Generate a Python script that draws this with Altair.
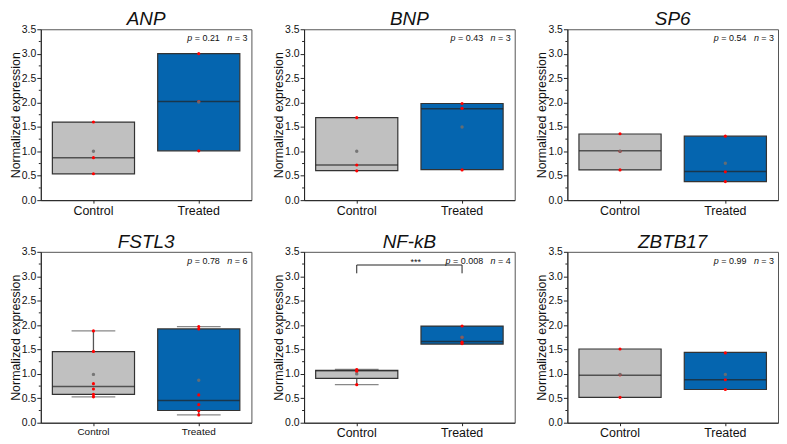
import altair as alt
import pandas as pd

FONT = "Liberation Sans, Arial, sans-serif"

GENES = ["ANP", "BNP", "SP6", "FSTL3", "NF-kB", "ZBTB17"]
GROUPS = ["Control", "Treated"]
COLORS = ["#C0C0C0", "#0565AF"]
P_VALUES = ["0.21", "0.43", "0.54", "0.78", "0.008", "0.99"]
N_VALUES = [3, 3, 3, 6, 4, 3]
XLABEL_SIZE = [12.5, 12.5, 12.5, 10, 12.5, 12.5]

# per gene: [Control, Treated]
LOWER = [[0.54, 1.01], [0.605, 0.625], [0.62, 0.38], [0.53, 0.16], [0.78, 1.61], [0.52, 0.68]]
Q1 = [[0.54, 1.01], [0.605, 0.625], [0.62, 0.38], [0.58, 0.25], [0.91, 1.61], [0.52, 0.68]]
MEDIAN = [[0.87, 2.02], [0.72, 1.87], [1.01, 0.585], [0.74, 0.456], [1.065, 1.665], [0.97, 0.88]]
Q3 = [[1.60, 3.00], [1.69, 1.98], [1.355, 1.31], [1.457, 1.92], [1.074, 1.98], [1.51, 1.44]]
UPPER = [[1.60, 3.00], [1.69, 1.98], [1.355, 1.31], [1.88, 1.97], [1.09, 1.98], [1.51, 1.44]]
MEAN = [[1.0, 2.01], [1.0, 1.50], [1.0, 0.755], [0.99, 0.87], [1.0, 1.75], [0.99, 0.99]]
POINTS = [
    [[1.60, 0.87, 0.54], [3.00, 2.02, 1.01]],
    [[1.69, 0.72, 0.60], [1.98, 1.88, 0.62]],
    [[1.36, 1.00, 0.62], [1.31, 0.58, 0.38]],
    [[1.88, 1.46, 0.80, 0.69, 0.58, 0.53], [1.97, 1.92, 0.57, 0.37, 0.245, 0.16]],
    [[1.09, 1.08, 1.05, 0.78], [1.98, 1.75, 1.65, 1.62]],
    [[1.51, 0.98, 0.52], [1.43, 0.88, 0.68]],
]
SIG_LABEL = {"NF-kB": "***"}
BRACKET_Y = [3.23, 3.06]
MAJOR_TICKS = [0.0, 0.5, 1.0, 1.5, 2.0, 2.5, 3.0, 3.5]
MINOR_TICKS = [0.25, 0.75, 1.25, 1.75, 2.25, 2.75, 3.25]

W, H = 212, 172
BOX_W = 0.39 * W
CAP_W = 44
TXT = 9

AW = {" ": .278, "=": .584, ".": .278, "p": .556, "n": .556}


def tw(s):
    return sum(AW.get(c, .556) for c in s) * TXT


YSC = alt.Scale(domain=[0, 3.5], nice=False)
YAX = alt.Axis(title="Normalized expression", values=MAJOR_TICKS, tickCount=8,
               labelExpr="format(datum.value, '.1f')",
               tickSize=4, labelFontSize=10.5, titleFontSize=12.5, titleFontWeight="normal",
               labelPadding=1, titlePadding=-1, labelOverlap=False, labelSeparation=0)


def Y(field):
    return alt.Y(field, scale=YSC, axis=YAX)


def panel(i):
    gene = GENES[i]
    box = pd.DataFrame({"group": GROUPS, "lower": LOWER[i], "q1": Q1[i], "median": MEDIAN[i],
                        "q3": Q3[i], "upper": UPPER[i], "mean": MEAN[i]})
    pts = pd.DataFrame([{"group": g, "value": v} for g, vals in zip(GROUPS, POINTS[i]) for v in vals])
    caps = []
    for g, lo, q1, q3, up in zip(GROUPS, LOWER[i], Q1[i], Q3[i], UPPER[i]):
        if lo < q1:
            caps.append({"group": g, "v": lo})
        if up > q3:
            caps.append({"group": g, "v": up})

    xsc = alt.Scale(domain=GROUPS, paddingInner=0.22, paddingOuter=0.11)
    x = alt.X("group:N", scale=xsc,
              axis=alt.Axis(title=None, labelAngle=0, labelFontSize=XLABEL_SIZE[i], tickSize=3,
                            labelPadding=1))
    base = alt.Chart(box)
    layers = []
    layers.append(base.mark_rule(color="#555", strokeWidth=1.3).encode(x=x, y=Y("lower:Q"), y2="q1:Q"))
    layers.append(base.mark_rule(color="#555", strokeWidth=1.3).encode(x=x, y=Y("q3:Q"), y2="upper:Q"))
    if caps:
        layers.append(alt.Chart(pd.DataFrame(caps)).mark_tick(color="#555", thickness=1.3, size=CAP_W)
                      .encode(x=x, y=Y("v:Q")))
    layers.append(base.mark_bar(stroke="#333", strokeWidth=1.2, opacity=1).encode(
        x=x, y=Y("q1:Q"), y2="q3:Q",
        color=alt.Color("group:N", scale=alt.Scale(domain=GROUPS, range=COLORS), legend=None)))
    layers.append(base.mark_tick(color="#222", thickness=1.5, size=BOX_W).encode(x=x, y=Y("median:Q")))
    layers.append(alt.Chart(pts).mark_circle(size=10, color="#FF0000", opacity=1).encode(x=x, y=Y("value:Q")))
    layers.append(base.mark_circle(size=12, color="#6E6E6E", opacity=0.9).encode(x=x, y=Y("mean:Q")))

    # minor ticks on the y axis
    layers.append(alt.Chart(pd.DataFrame({"m": MINOR_TICKS})).mark_rule(color="#222", strokeWidth=1).encode(
        y=Y("m:Q"), x=alt.value(-2), x2=alt.value(0)))

    # p / n annotation
    segs = [("p", "italic"), (" = " + P_VALUES[i], "normal"), ("   ", "normal"),
            ("n", "italic"), (" = " + str(N_VALUES[i]), "normal")]
    total = sum(tw(s) for s, _ in segs)
    x0 = W - 4 - total
    for s, style in segs:
        lead = len(s) - len(s.lstrip(" "))
        core = s.strip()
        if core:
            layers.append(alt.Chart(pd.DataFrame({"t": [core]})).mark_text(
                align="left", baseline="middle", fontSize=TXT, fontStyle=style, font=FONT, color="#111"
            ).encode(x=alt.value(x0 + tw(" " * lead)), y=alt.value(9), text="t:N"))
        x0 += tw(s)

    if gene in SIG_LABEL:
        br = pd.DataFrame({"group": [GROUPS[0]], "group2": [GROUPS[1]], "y": [BRACKET_Y[0]], "y2": [BRACKET_Y[1]]})
        bc = alt.Chart(br)
        layers.append(bc.mark_rule(color="#222", strokeWidth=1).encode(x=x, x2="group2:N", y=Y("y:Q")))
        layers.append(bc.mark_rule(color="#222", strokeWidth=1).encode(x=x, y=Y("y:Q"), y2="y2:Q"))
        layers.append(bc.mark_rule(color="#222", strokeWidth=1).encode(
            x=alt.X("group2:N", scale=xsc), y=Y("y:Q"), y2="y2:Q"))
        layers.append(alt.Chart(pd.DataFrame({"t": [SIG_LABEL[gene]]})).mark_text(
            align="center", baseline="middle", fontSize=TXT, font=FONT, color="#111"
        ).encode(x=alt.value(W * 0.53), y=alt.value(10), text="t:N"))

    return alt.layer(*layers).properties(width=W, height=H, title=alt.Title(gene))


row1 = alt.hconcat(panel(0), panel(1), panel(2), spacing=19)
row2 = alt.hconcat(panel(3), panel(4), panel(5), spacing=19)
chart = alt.vconcat(row1, row2, spacing=15).configure(
    background="white", padding=0
).configure_view(
    stroke="#555", strokeWidth=1
).configure_axis(
    domainColor="#222", tickColor="#222", labelColor="#111", titleColor="#111",
    labelFont=FONT, titleFont=FONT, grid=False, labelOverlap=False
).configure_title(
    font=FONT, fontSize=19, fontStyle="italic", fontWeight="normal", anchor="middle", offset=-5, color="#111"
)

chart.save("out.html", embed_options={"renderer": "svg", "actions": False})
